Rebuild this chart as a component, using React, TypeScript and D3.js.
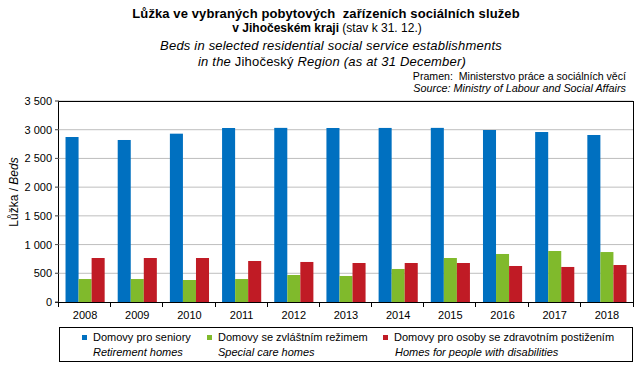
import React from "react";
import * as d3 from "d3";

const years = ["2008","2009","2010","2011","2012","2013","2014","2015","2016","2017","2018"];
const retirement = [2873, 2821, 2931, 3030, 3032, 3030, 3031, 3032, 2995, 2960, 2908];
const specialCare = [400, 400, 383, 400, 470, 453, 575, 766, 836, 888, 870];
const disabilities = [766, 766, 766, 714, 697, 679, 679, 679, 627, 610, 644];
const yTicks = [0, 500, 1000, 1500, 2000, 2500, 3000, 3500];
const seriesKeys = ["retirement", "specialCare", "disabilities"];
const seriesValues = [retirement, specialCare, disabilities];
const seriesCz = ["Domovy pro seniory", "Domovy se zvláštním režimem", "Domovy pro osoby se zdravotním postižením"];
const seriesEn = ["Retirement homes", "Special care homes", "Homes for people with disabilities"];
const colors = ["#0070C0", "#80BA2C", "#C01B25"];

const W = 643, H = 377;
const M = { left: 59, right: 633, top: 101, bottom: 302 };
const FONT = "'Liberation Sans', Arial, sans-serif";

const fmt = (v: number) => {
  const s = String(v);
  return s.length > 3 ? s.slice(0, s.length - 3) + " " + s.slice(-3) : s;
};

export default function App() {
  const x = d3.scaleBand<string>().domain(years).range([M.left, M.right]).padding(0);
  const bw = x.bandwidth();
  const xs = d3.scaleBand<string>().domain(seriesKeys).range([bw / 8, (bw * 7) / 8]).padding(0);
  const y = d3.scaleLinear().domain([0, 3500]).range([M.bottom, M.top]);

  const legendX = [82, 207, 383];

  return (
    <svg width={W} height={H} style={{ position: "absolute", left: 0, top: 0, background: "#fff" }} fontFamily={FONT}>
      <rect x={0} y={0} width={W} height={H} fill="#fff" />
      {/* Titles */}
      <text x={326} y={18} textAnchor="middle" fontSize={13} fontWeight="bold" fill="#000" letterSpacing={0.1} style={{ whiteSpace: "pre" }}>
        Lůžka ve vybraných pobytových  zařízeních sociálních služeb
      </text>
      <text x={327} y={32} textAnchor="middle" fontSize={12} fill="#000">
        <tspan fontWeight="bold">v Jihočeském kraji</tspan>
        <tspan> (stav k 31. 12.)</tspan>
      </text>
      <text x={331} y={50} textAnchor="middle" fontSize={13} fontStyle="italic" fill="#000" letterSpacing={0.2}>
        Beds in selected residential social service establishments
      </text>
      <text x={332} y={66} textAnchor="middle" fontSize={13} fill="#000" letterSpacing={0.2}>
        <tspan fontStyle="italic">in the </tspan>
        <tspan>Jihočeský</tspan>
        <tspan fontStyle="italic"> Region (as at 31 December)</tspan>
      </text>
      <text x={626} y={80} textAnchor="end" fontSize={10.6} fill="#000" style={{ whiteSpace: "pre" }}>
        Pramen:  Ministerstvo práce a sociálních věcí
      </text>
      <text x={626} y={92} textAnchor="end" fontSize={10.8} fontStyle="italic" fill="#000">
        Source: Ministry of Labour and Social Affairs
      </text>

      {/* Gridlines */}
      {yTicks.slice(1).map((t) => (
        <line key={"g" + t} x1={M.left - 4} x2={M.right} y1={y(t)} y2={y(t)} stroke="#BEBEBE" strokeWidth={1} />
      ))}

      {/* Bars */}
      {years.map((yr, i) => (
        <g key={yr}>
          {seriesKeys.map((k, j) => (
            <rect
              key={k}
              x={(x(yr) as number) + (xs(k) as number)}
              y={y(seriesValues[j][i])}
              width={xs.bandwidth()}
              height={y(0) - y(seriesValues[j][i])}
              fill={colors[j]}
            />
          ))}
        </g>
      ))}

      {/* Frame */}
      <line x1={M.left} x2={M.right} y1={M.top + 0.5} y2={M.top + 0.5} stroke="#000" />
      <line x1={M.right + 0.5} x2={M.right + 0.5} y1={M.top} y2={M.bottom} stroke="#000" />
      <line x1={M.left - 0.5} x2={M.left - 0.5} y1={M.top} y2={M.bottom + 0.5} stroke="#000" />
      <line x1={M.left - 4} x2={M.right + 1} y1={M.bottom + 0.5} y2={M.bottom + 0.5} stroke="#000" />

      {/* Y ticks */}
      {yTicks.map((t) => (
        <g key={"y" + t}>
          <line x1={M.left - 4} x2={M.left} y1={y(t)} y2={y(t)} stroke="#555" />
          <text x={52} y={y(t) + 4} textAnchor="end" fontSize={11} fill="#000">{fmt(t)}</text>
        </g>
      ))}

      {/* X ticks */}
      {years.map((yr) => (
        <line key={"xt" + yr} x1={Math.round(x(yr) as number) - 0.5} x2={Math.round(x(yr) as number) - 0.5} y1={M.bottom} y2={M.bottom + 5} stroke="#000" />
      ))}
      <line x1={M.right + 0.5} x2={M.right + 0.5} y1={M.bottom} y2={M.bottom + 5} stroke="#000" />
      {years.map((yr) => (
        <text key={"xl" + yr} x={(x(yr) as number) + bw / 2} y={319} textAnchor="middle" fontSize={11} fill="#000">{yr}</text>
      ))}

      {/* Y title */}
      <text transform="translate(18,192) rotate(-90)" textAnchor="middle" fontSize={12} fill="#000">
        <tspan>Lůžka / </tspan>
        <tspan fontStyle="italic">Beds</tspan>
      </text>

      {/* Legend */}
      <rect x={59.5} y={327.5} width={573} height={34} fill="#fff" stroke="#000" />
      {seriesKeys.map((k, j) => (
        <g key={"lg" + k}>
          <rect x={legendX[j]} y={335} width={5} height={5} fill={colors[j]} />
          <text x={legendX[j] + 11} y={341} fontSize={11} fill="#000">{seriesCz[j]}</text>
          <text x={legendX[j] + (j === 2 ? 12 : 11)} y={356} fontSize={11} fontStyle="italic" fill="#000">{seriesEn[j]}</text>
        </g>
      ))}
    </svg>
  );
}
